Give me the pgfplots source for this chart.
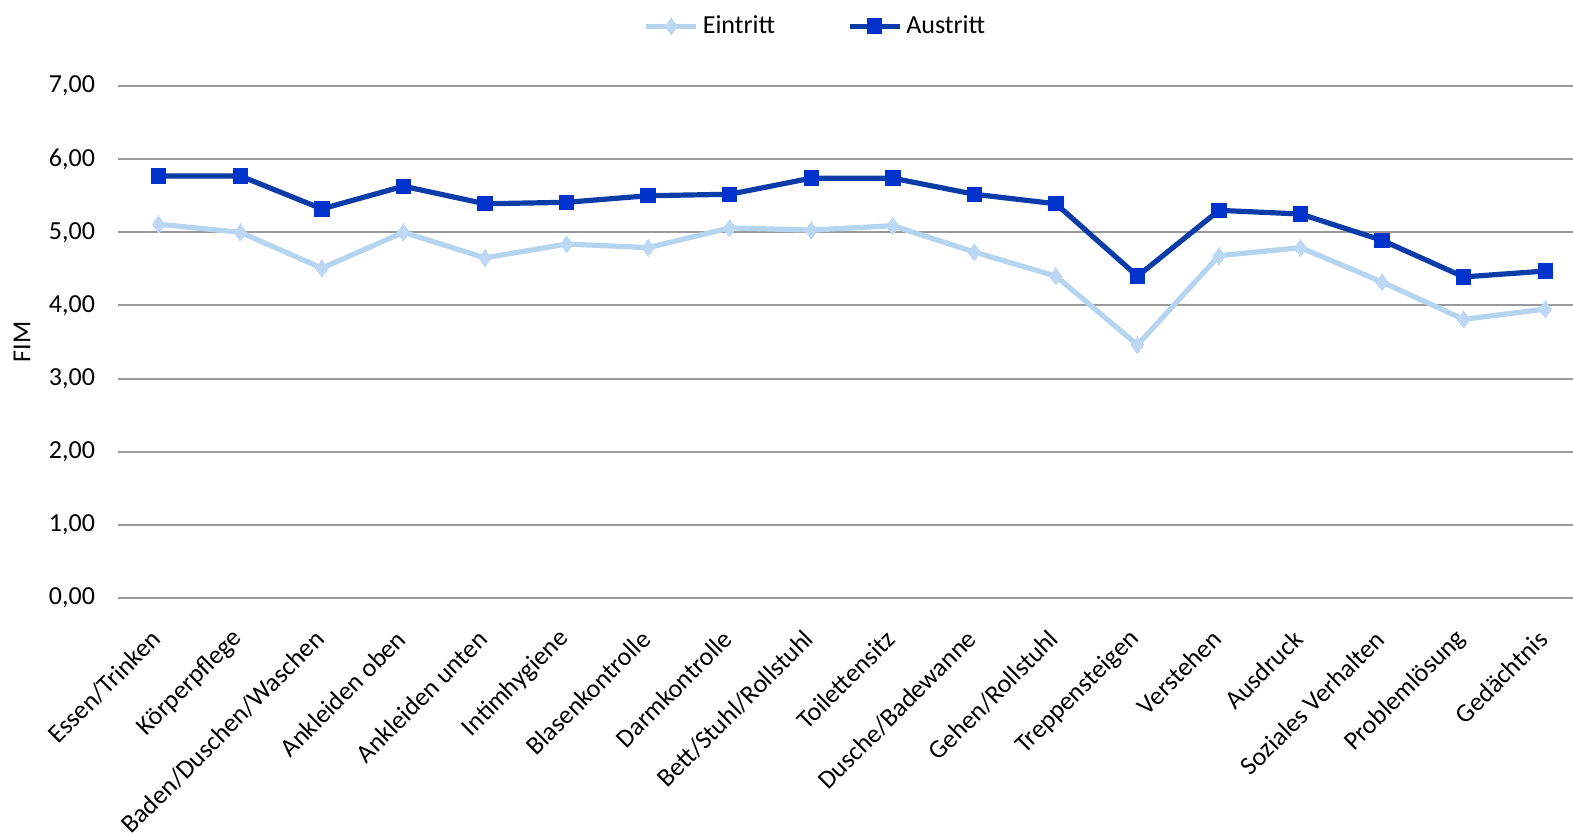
\documentclass[border=0pt]{standalone}
\usepackage{pgfplots}
\pgfplotsset{compat=1.18}
\usepackage{fontspec}
\setmainfont{Carlito}

\definecolor{einLine}{HTML}{B4D4EF}
\definecolor{einMark}{HTML}{BCD8F4}
\definecolor{ausLine}{HTML}{0B3CA8}
\definecolor{ausMark}{HTML}{0033CC}
\definecolor{gridgray}{HTML}{9A9A9A}

\begin{document}
\begin{tikzpicture}[x=1pt,y=1pt]
\begin{axis}[
  at={(0,0)}, anchor=south west,
  scale only axis,
  width=727.5pt, height=256pt,
  xmin=-0.5, xmax=17.34,
  ymin=0, ymax=7,
  ytick={0,1,2,3,4,5,6,7},
  xtick={0,...,17},
  xticklabels={Essen/Trinken,Körperpflege,Baden/Duschen/Waschen,Ankleiden oben,Ankleiden unten,Intimhygiene,Blasenkontrolle,Darmkontrolle,Bett/Stuhl/Rollstuhl,Toilettensitz,Dusche/Badewanne,Gehen/Rollstuhl,Treppensteigen,Verstehen,Ausdruck,Soziales Verhalten,Problemlösung,Gedächtnis},
  axis line style={draw=none},
  tick style={draw=none},
  ymajorgrids,
  major grid style={color=gridgray, line width=1pt},
  font=\fontsize{13}{15.6}\selectfont,
  ticklabel style={font=\fontsize{13}{15.6}\selectfont},
  yticklabel style={
    /pgf/number format/.cd, fixed, fixed zerofill, precision=2, use comma, assume math mode=true,
    /tikz/.cd, anchor=east, xshift=-8pt},
  xticklabel style={xshift=1.4pt, yshift=-16pt, rotate=45, anchor=east},
  ylabel={FIM},
  every axis y label/.style={at={(axis description cs:-0.066,0.5)}, rotate=90, anchor=center, font=\fontsize{13}{15.6}\selectfont},
  legend style={at={(axis description cs:0.48,1.117)}, anchor=center, draw=none, fill=none,
    font=\fontsize{13}{15.6}\selectfont, legend columns=2,
    /tikz/every even column/.append style={column sep=34pt}},
  legend image code/.code={
    \draw[#1, mark repeat=2, mark phase=2] plot coordinates {(0pt,0pt)(12.5pt,0pt)(25pt,0pt)};
  },
  clip=false,
]
\addplot[color=einLine, line width=2.6pt, mark=diamond*, mark size=4.2pt,
  mark options={fill=einMark, draw=einMark, line width=0pt}]
  coordinates {
  (0,5.11) (1,5.00) (2,4.51) (3,5.00) (4,4.65) (5,4.84) (6,4.79) (7,5.06) (8,5.03)
  (9,5.09) (10,4.73) (11,4.40) (12,3.46) (13,4.68) (14,4.79) (15,4.32) (16,3.81) (17,3.95)
  };
\addlegendentry{Eintritt}
\addplot[color=ausLine, line width=2.6pt, mark=square*, mark size=3.6pt,
  mark options={fill=ausMark, draw=ausMark, line width=0pt}]
  coordinates {
  (0,5.77) (1,5.77) (2,5.32) (3,5.63) (4,5.39) (5,5.41) (6,5.50) (7,5.52) (8,5.74)
  (9,5.74) (10,5.52) (11,5.39) (12,4.40) (13,5.30) (14,5.25) (15,4.89) (16,4.39) (17,4.47)
  };
\addlegendentry{Austritt}
\end{axis}
\pgfresetboundingbox
\path (-59pt,-117pt) rectangle (727.5pt,299pt);
\end{tikzpicture}
\end{document}
